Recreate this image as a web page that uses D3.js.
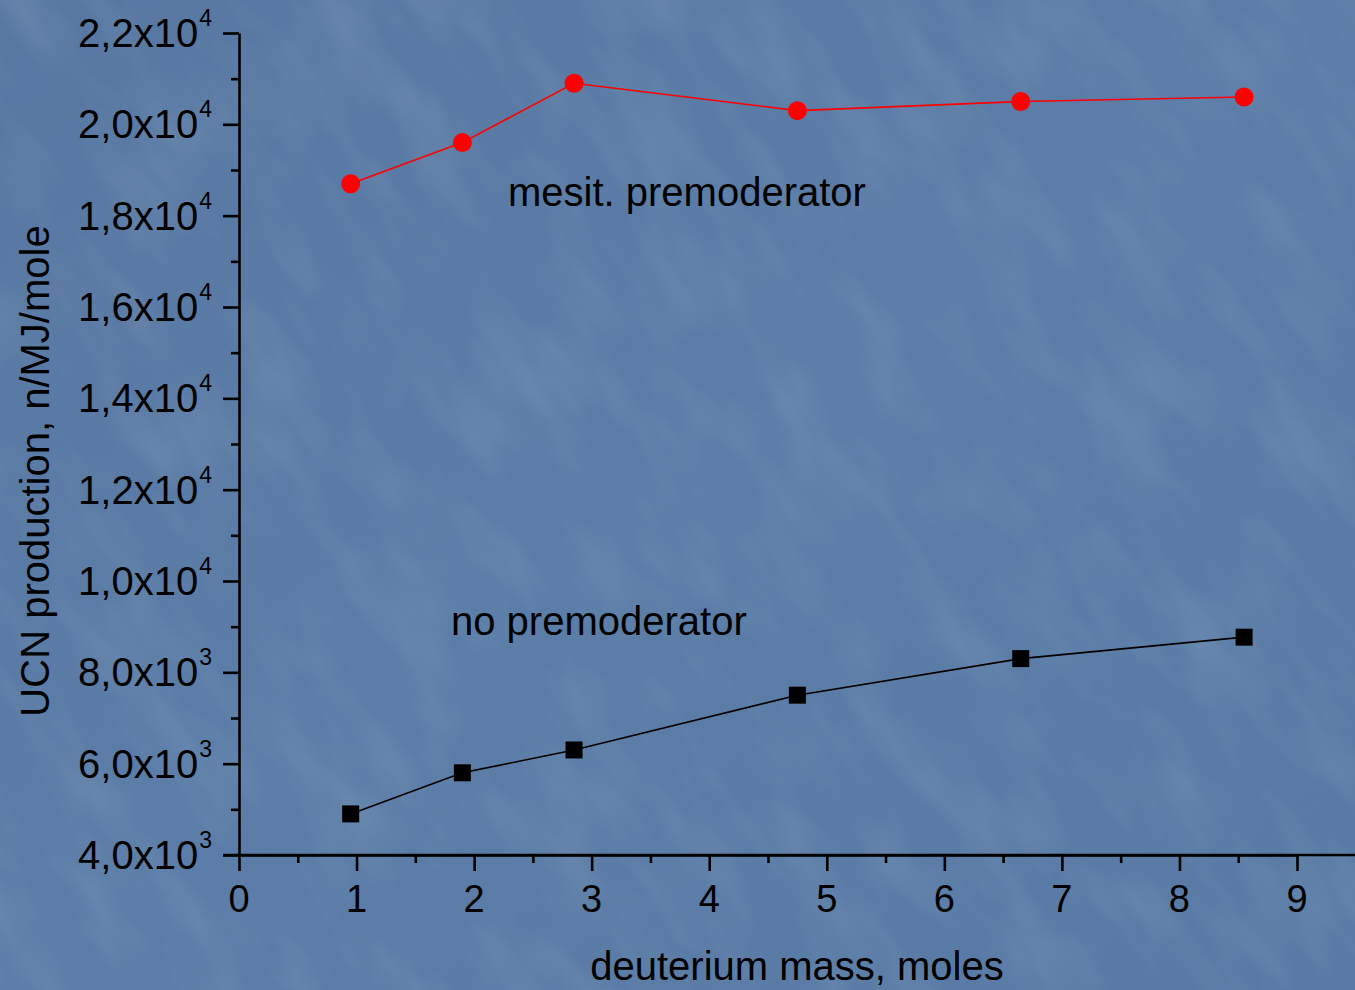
<!DOCTYPE html>
<html><head><meta charset="utf-8">
<script src="https://cdn.jsdelivr.net/npm/d3@7"></script>
<style>html,body{margin:0;padding:0;background:#5a7ca6;}svg{display:block;}</style>
</head><body>
<script>
const redX = [0.95, 1.9, 2.85, 4.75, 6.65, 8.55];
const redY = [18700, 19600, 20900, 20300, 20500, 20600];
const blackX = [0.95, 1.9, 2.85, 4.75, 6.65, 8.55];
const blackY = [4900, 5800, 6300, 7500, 8300, 8770];
const yTickMant = ["4,0","6,0","8,0","1,0","1,2","1,4","1,6","1,8","2,0","2,2"];
const yTickExp = ["3","3","3","4","4","4","4","4","4","4"];
const yTickVals = [4000,6000,8000,10000,12000,14000,16000,18000,20000,22000];
const xTickVals = [0,1,2,3,4,5,6,7,8,9];
const annRed = "mesit. premoderator";
const annBlack = "no premoderator";
const xTitle = "deuterium mass, moles";
const yTitle = "UCN production, n/MJ/mole";

const W = 1355, H = 990;
const svg = d3.select("body").append("svg").attr("width", W).attr("height", H)
  .style("font-family", "'Liberation Sans', Arial, sans-serif");

const defs = svg.append("defs");
const g1 = defs.append("linearGradient").attr("id","bg").attr("x1","0").attr("y1","0").attr("x2","1").attr("y2","1");
g1.append("stop").attr("offset","0").attr("stop-color","#5878a2");
g1.append("stop").attr("offset","0.5").attr("stop-color","#5b7da7");
g1.append("stop").attr("offset","1").attr("stop-color","#587aa4");
const f = defs.append("filter").attr("id","tex").attr("x","0").attr("y","0").attr("width","1").attr("height","1");
f.append("feTurbulence").attr("type","fractalNoise").attr("baseFrequency","0.02 0.008").attr("numOctaves",3).attr("seed",7).attr("result","n");
f.append("feColorMatrix").attr("type","matrix")
  .attr("values","0 0 0 0 1  0 0 0 0 1  0 0 0 0 1  0 0 0 1.2 -0.5");
svg.append("rect").attr("width",W).attr("height",H).attr("fill","url(#bg)");
svg.append("rect").attr("x",-300).attr("y",-300).attr("width",W+600).attr("height",H+600)
  .attr("filter","url(#tex)").attr("opacity",0.14)
  .attr("transform",`rotate(-35 ${W/2} ${H/2})`);

const x = d3.scaleLinear().domain([0, 9]).range([239, 1297]);
const y = d3.scaleLinear().domain([4000, 22000]).range([855, 33]);

svg.append("g").attr("transform", "translate(239,0)")
  .call(d3.axisLeft(y).tickValues(yTickVals).tickSize(16).tickSizeOuter(0).tickFormat(""));
svg.append("g").attr("transform", "translate(239,0)")
  .call(d3.axisLeft(y).tickValues(d3.range(5000, 22000, 2000)).tickSize(8).tickSizeOuter(0).tickFormat(""))
  .select(".domain").remove();
svg.append("g").attr("transform", "translate(0,855)")
  .call(d3.axisBottom(x).tickValues(xTickVals).tickSize(16).tickSizeOuter(0).tickFormat(""));
svg.append("g").attr("transform", "translate(0,855)")
  .call(d3.axisBottom(x).tickValues(d3.range(0.5, 9.6, 1)).tickSize(8).tickSizeOuter(0).tickFormat(""))
  .select(".domain").remove();
svg.append("line").attr("x1", 223).attr("x2", W).attr("y1", 855).attr("y2", 855)
  .attr("stroke", "#000").attr("stroke-width", 2.6);
svg.selectAll(".domain").attr("stroke", "#000").attr("stroke-width", 2.6);
svg.selectAll(".tick line").attr("stroke", "#000").attr("stroke-width", 2.6);

const yl = svg.append("g");
yTickVals.forEach((v, i) => {
  const t = yl.append("text").attr("x", 212).attr("y", y(v) + 14)
    .attr("text-anchor", "end").attr("font-size", 40).attr("fill", "#000");
  t.append("tspan").text(yTickMant[i] + "x10");
  t.append("tspan").attr("dy", -21).attr("dx", 1).attr("font-size", 23).text(yTickExp[i]);
});
svg.append("g").selectAll("text").data(xTickVals).join("text")
  .attr("x", d => x(d)).attr("y", 912).attr("text-anchor", "middle")
  .attr("font-size", 38).attr("fill", "#000").text(d => d);

svg.append("text").attr("x", 797).attr("y", 980).attr("text-anchor", "middle")
  .attr("font-size", 40).attr("fill", "#000").text(xTitle);
svg.append("text").attr("transform", "translate(49,471) rotate(-90)").attr("text-anchor", "middle")
  .attr("font-size", 40).attr("fill", "#000").text(yTitle);

svg.append("text").attr("x", 508).attr("y", 206).attr("font-size", 40).attr("fill", "#000").text(annRed);
svg.append("text").attr("x", 451).attr("y", 635).attr("font-size", 40).attr("fill", "#000").text(annBlack);

const line = d3.line().x(d => x(d[0])).y(d => y(d[1]));
const redData = redX.map((v, i) => [v, redY[i]]);
const blackData = blackX.map((v, i) => [v, blackY[i]]);
svg.append("path").datum(redData).attr("d", line).attr("fill", "none").attr("stroke", "#ff0000").attr("stroke-width", 1.6);
svg.append("path").datum(blackData).attr("d", line).attr("fill", "none").attr("stroke", "#000").attr("stroke-width", 1.6);

svg.append("g").selectAll("circle").data(redData).join("circle")
  .attr("cx", d => x(d[0])).attr("cy", d => y(d[1])).attr("r", 9.5).attr("fill", "#ff0000");
svg.append("g").selectAll("rect").data(blackData).join("rect")
  .attr("x", d => x(d[0]) - 8.5).attr("y", d => y(d[1]) - 8.5)
  .attr("width", 17).attr("height", 17).attr("fill", "#000");
</script>
</body></html>
